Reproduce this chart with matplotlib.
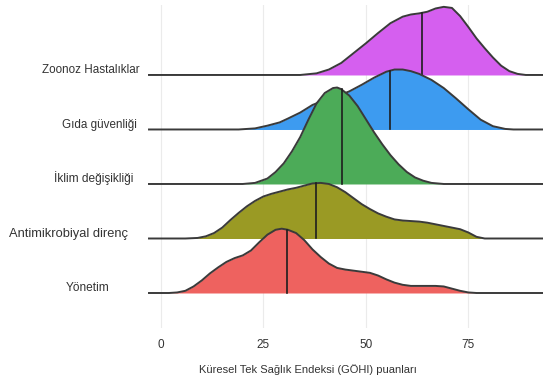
import numpy as np
import matplotlib
matplotlib.use("Agg")
import matplotlib.pyplot as plt
from matplotlib import font_manager

names = {f.name for f in font_manager.fontManager.ttflist}
FONT = "Liberation Sans Narrow" if "Liberation Sans Narrow" in names else "Liberation Sans"
plt.rcParams["font.family"] = [FONT, "DejaVu Sans"]

# ---- data (bottom to top) ----
categories = ["Yönetim", "Antimikrobiyal direnç", "İklim değişikliği",
              "Gıda güvenliği", "Zoonoz Hastalıklar"]
colors = ["#EE625F", "#9A9A24", "#4CAB58", "#3D9BF0", "#D55FEF"]

yon_x = [2, 4, 6, 8, 10, 12, 14, 16, 18, 20, 22, 24, 26, 28, 29.5, 31, 33, 35, 37, 39, 41, 43,
         45, 47, 49, 51, 53, 55, 57, 59, 61, 63, 65, 67, 69, 71, 73, 75, 77]
yon_h = [0, 0.01, 0.04, 0.12, 0.23, 0.36, 0.47, 0.57, 0.64, 0.69, 0.78, 0.93, 1.07, 1.16, 1.18,
         1.16, 1.10, 0.97, 0.80, 0.66, 0.54, 0.46, 0.43, 0.41, 0.39, 0.37, 0.32, 0.25, 0.19, 0.15,
         0.13, 0.13, 0.13, 0.13, 0.12, 0.08, 0.04, 0.01, 0]
amr_x = [6, 9, 11, 13, 15, 17, 19, 21, 23, 25, 27, 29, 31, 33, 35, 37, 39, 41, 43, 45, 47, 49, 51,
         53, 55, 57, 59, 61, 63, 65, 67, 69, 71, 73, 75, 77, 79]
amr_h = [0, 0.01, 0.04, 0.10, 0.20, 0.34, 0.47, 0.59, 0.69, 0.77, 0.82, 0.86, 0.90, 0.93, 0.97,
         1.01, 1.02, 1.00, 0.94, 0.85, 0.74, 0.63, 0.54, 0.46, 0.40, 0.35, 0.33, 0.32, 0.31, 0.29,
         0.26, 0.23, 0.20, 0.17, 0.11, 0.03, 0]
ikl_x = [20, 23, 26, 28, 30, 32, 34, 36, 38, 40, 42, 43, 44, 46, 48, 50, 52, 54, 56, 58, 60, 62,
         64, 66, 69]
ikl_h = [0, 0.02, 0.10, 0.22, 0.38, 0.60, 0.86, 1.18, 1.48, 1.67, 1.76, 1.77, 1.74, 1.62, 1.43,
         1.19, 0.95, 0.73, 0.53, 0.36, 0.22, 0.12, 0.06, 0.02, 0]
gida_x = [19, 23, 26, 29, 31, 34, 37, 40, 43, 46, 49, 52, 55, 57, 59, 61, 63, 66, 69, 72, 75, 78,
          81, 84, 86]
gida_h = [0, 0.02, 0.07, 0.13, 0.20, 0.31, 0.45, 0.54, 0.61, 0.70, 0.82, 0.95, 1.06, 1.10, 1.10,
          1.07, 1.02, 0.91, 0.76, 0.57, 0.37, 0.18, 0.06, 0.01, 0]
zoo_x = [34, 38, 41, 44, 47, 50, 53, 56, 59, 61, 63, 65, 67, 69, 71, 73, 75, 77, 79, 81, 83, 85,
         87, 89]
zoo_h = [0, 0.03, 0.10, 0.22, 0.40, 0.58, 0.77, 0.95, 1.07, 1.11, 1.13, 1.16, 1.22, 1.25, 1.23,
         1.08, 0.88, 0.67, 0.49, 0.32, 0.17, 0.07, 0.02, 0]
medians = [30.9, 37.9, 44.1, 55.9, 63.7]

series_x = [yon_x, amr_x, ikl_x, gida_x, zoo_x]
series_h = [yon_h, amr_h, ikl_h, gida_h, zoo_h]

xticks = [0, 25, 50, 75]
xlabel = "Küresel Tek Sağlık Endeksi (GÖHI) puanları"

# ---- layout / style (not data) ----
W, H = 543, 378
label_right_px = [110, 128, 133, 137, 140]
label_sizes = [8.6, 9.3, 8.6, 8.4, 8.4]

# ---- figure ----
fig = plt.figure(figsize=(W / 100, H / 100), dpi=100)
ax = fig.add_axes([0.2726, 0.1323, 0.7274, 0.8545])
XL = (-3.1, 93.2)
ax.set_xlim(*XL)
ax.set_ylim(-0.642, 5.284)

for xv in xticks:
    ax.axvline(xv, color="#EBEBEB", lw=0.8, zorder=0)

n = len(categories)
for i in reversed(range(n)):
    xs = np.concatenate([[XL[0]], series_x[i], [XL[1]]])
    hs = np.concatenate([[0], series_h[i], [0]])
    z = 10 + (n - i) * 3
    ax.fill_between(series_x[i], i, i + np.array(series_h[i]), color=colors[i],
                    lw=0, zorder=z)
    ax.plot(xs, i + hs, color="#3a3a3a", lw=1.4, zorder=z + 1,
            solid_capstyle="butt", solid_joinstyle="round")
    mh = np.interp(medians[i], series_x[i], series_h[i])
    ax.plot([medians[i], medians[i]], [i, i + mh], color="#1e1e1e", lw=1.2,
            zorder=z + 2)

# category labels
ax.set_yticks(range(n))
ax.set_yticklabels([])
blend = matplotlib.transforms.blended_transform_factory(fig.transFigure, ax.transData)
for i, lab in enumerate(categories):
    ax.text(label_right_px[i] / W, i + 0.03, lab, transform=blend, ha="right",
            va="baseline", fontsize=label_sizes[i], color="#333333")

ax.set_xticks(xticks)
ax.set_xticklabels([str(t) for t in xticks], fontsize=8.5, color="#333333")
ax.tick_params(axis="both", length=0)
ax.tick_params(axis="x", pad=8)
ax.set_xlabel(xlabel, fontsize=8, color="#333333", labelpad=10)
ax.xaxis.set_label_coords((308 - 148) / (W - 148), -0.128)
ax.xaxis.label.set_va("center")
for s in ax.spines.values():
    s.set_visible(False)

fig.savefig("out.png", dpi=100)
